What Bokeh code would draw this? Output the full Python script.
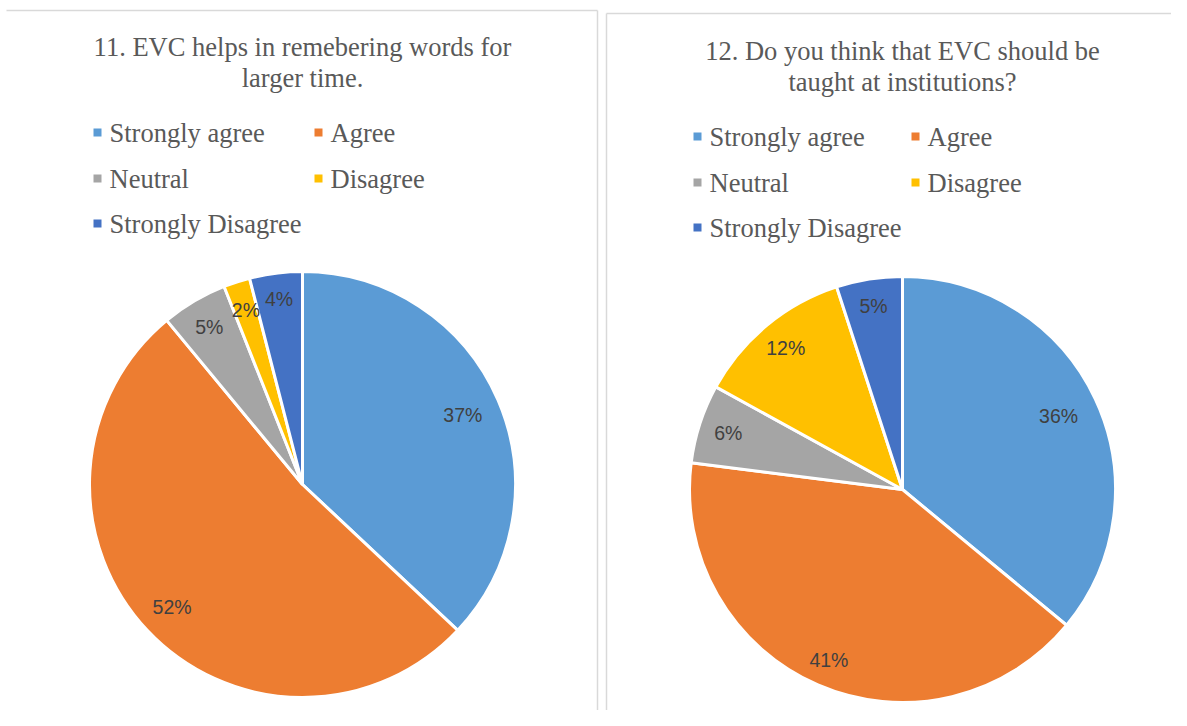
import math
from bokeh.plotting import figure
from bokeh.models import Range1d, ColumnDataSource
from bokeh.core.properties import value
from bokeh.embed import file_html
from bokeh.resources import INLINE

# ---- data ----
categories = ["Strongly agree", "Agree", "Neutral", "Disagree", "Strongly Disagree"]
colors = ["#5B9BD5", "#ED7D31", "#A5A5A5", "#FFC000", "#4472C4"]
title1 = ["11. EVC helps in remebering words for", "larger time."]
title2 = ["12. Do you think that EVC should be", "taught at institutions?"]
values1 = [37, 52, 5, 2, 4]
values2 = [36, 41, 6, 12, 5]

# ---- layout / style (reference pixel coords) ----
W, H = 1171, 710
def Y(y):  # reference screen y -> data y
    return H - y

p = figure(width=W, height=H, x_range=Range1d(0, W), y_range=Range1d(0, H),
           output_backend="svg", toolbar_location=None, x_axis_type=None, y_axis_type=None,
           min_border=0, outline_line_color=None)
p.grid.visible = False
p.background_fill_color = "white"

# panel borders
border = "#D9D9D9"
p.segment(x0=[6, 597, 606, 606], y0=[Y(10), Y(10), Y(13), Y(13)],
          x1=[597, 597, 1200, 606], y1=[Y(10), Y(760), Y(13), Y(760)],
          line_color=border, line_width=1.5)

panels = [
    dict(vals=values1, title=title1, cx=302, cy=484, r=213, ty=[46, 77],
         lx=[97, 318], ly=[132, 178, 223], lfrac=[0.82, 0.84, 0.86, 0.86, 0.88]),
    dict(vals=values2, title=title2, cx=902, cy=489, r=213, ty=[50, 81],
         lx=[697, 915], ly=[136, 182, 227], lfrac=[0.81, 0.87, 0.86, 0.86, 0.87]),
]

for pan in panels:
    vals = pan["vals"]
    tot = float(sum(vals))
    cum = 0.0
    starts, ends, lxs, lys, labels = [], [], [], [], []
    for i, v in enumerate(vals):
        a0 = math.pi / 2 - 2 * math.pi * cum / tot
        a1 = math.pi / 2 - 2 * math.pi * (cum + v) / tot
        mid = (a0 + a1) / 2
        starts.append(a0)
        ends.append(a1)
        rr = pan["r"] * pan["lfrac"][i]
        lxs.append(pan["cx"] + rr * math.cos(mid))
        lys.append(Y(pan["cy"]) + rr * math.sin(mid))
        labels.append(f"{round(100 * v / tot)}%")
        cum += v
    src = ColumnDataSource(dict(start=starts, end=ends, color=colors))
    p.wedge(x=pan["cx"], y=Y(pan["cy"]), radius=pan["r"], radius_units="screen",
            start_angle="start", end_angle="end", direction="clock",
            fill_color="color", line_color="white", line_width=3, source=src)
    p.text(x=lxs, y=lys, text=labels, text_align="center", text_baseline="middle",
           text_font=value("Liberation Sans"), text_font_size="19.5px", text_color="#404040")
    # title
    p.text(x=[pan["cx"]] * 2, y=[Y(t) for t in pan["ty"]], text=pan["title"],
           text_align="center", text_baseline="middle",
           text_font=value("Liberation Serif"), text_font_size="26.5px", text_color="#595959")
    # legend
    sx, sy, tx, ty = [], [], [], []
    for i, c in enumerate(categories):
        col, row = i % 2, i // 2
        sx.append(pan["lx"][col])
        sy.append(Y(pan["ly"][row]))
        tx.append(pan["lx"][col] + 12)
        ty.append(Y(pan["ly"][row]))
    p.rect(x=sx, y=sy, width=8, height=8, width_units="screen", height_units="screen",
           fill_color=colors, line_color=None)
    p.text(x=tx, y=ty, text=categories, text_align="left", text_baseline="middle",
           text_font=value("Liberation Serif"), text_font_size="26.5px", text_color="#595959")

open("out.html", "w").write(file_html(p, INLINE))
